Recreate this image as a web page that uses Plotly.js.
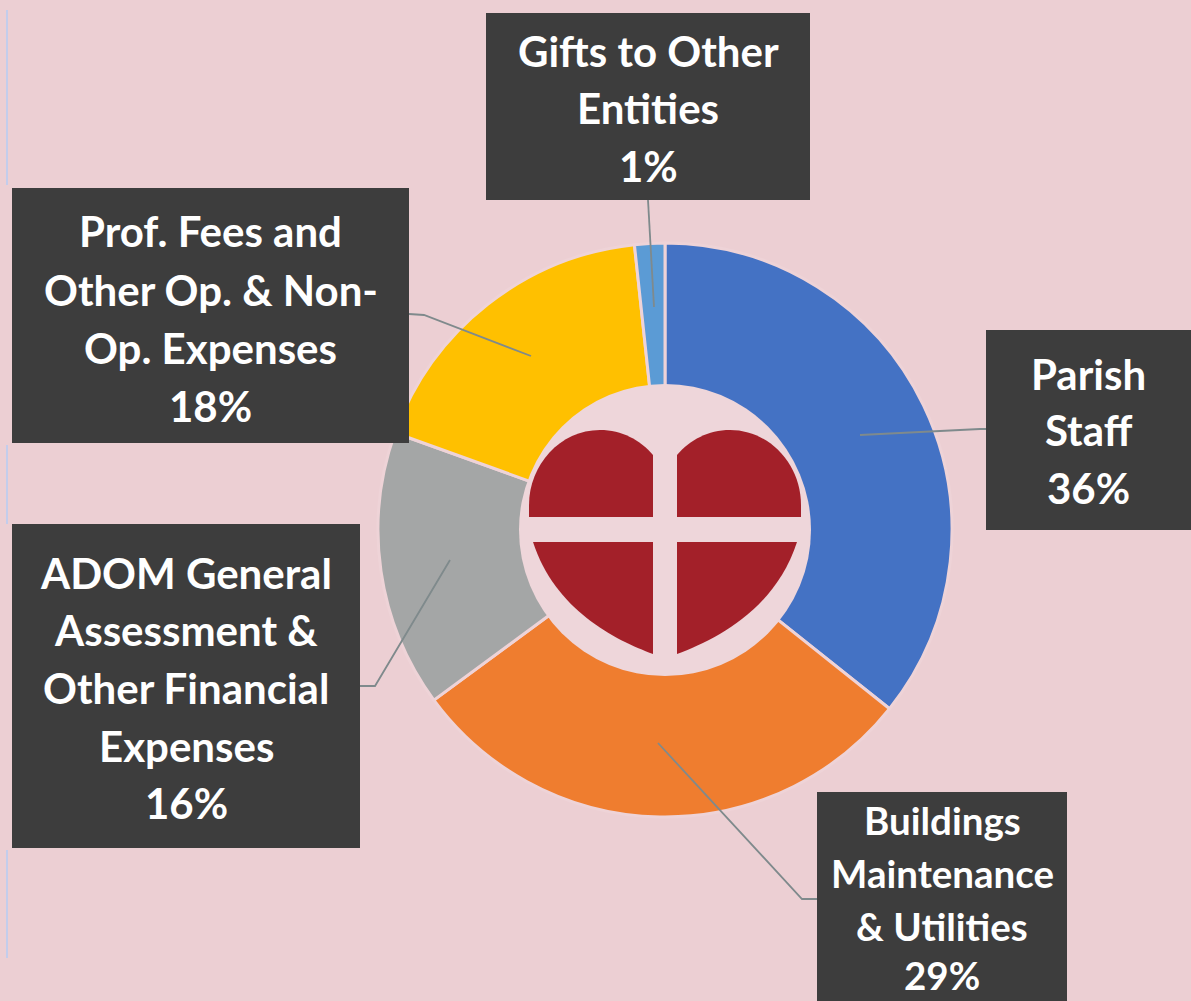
<!DOCTYPE html>
<html>
<head>
<meta charset="utf-8">
<script src="https://cdn.plot.ly/plotly-3.0.1.min.js"></script>
<style>html,body{margin:0;padding:0;background:#eccfd3;overflow:hidden}#chart{width:1191px;height:1001px}</style>
</head>
<body>
<div id="chart"></div>
<script>
// Data
const categories = ["Parish Staff", "Buildings Maintenance & Utilities", "ADOM General Assessment & Other Financial Expenses", "Prof. Fees and Other Op. & Non-Op. Expenses", "Gifts to Other Entities"];
const sliceShares = [35.7, 29.2, 15.6, 17.8, 1.7];
const printedPercents = ["36%", "29%", "16%", "18%", "1%"];
const sliceColors = ["#4472c4", "#ef7d2f", "#a4a6a6", "#ffc000", "#5b9bd5"];
const labelLines = [
  ["Parish", "Staff"],
  ["Buildings", "Maintenance", "& Utilities"],
  ["ADOM General", "Assessment &", "Other Financial", "Expenses"],
  ["Prof. Fees and", "Other Op. & Non-", "Op. Expenses"],
  ["Gifts to Other", "Entities"]
];

// Page layout, in page pixels
const W = 1191, H = 1001;
const BG = "#eccfd3", HOLE = "#eed6da", BOX = "#3d3d3d", HEART = "#a32029", LEADER = "#7f8a8c";
const cx = 665, cy = 530, R = 287, holeR = 146;
const boxes = [[986,330,1191,530],[817,792,1067,1001],[12,524,360,848],[12,188,409,443],[486,13,810,200]];
const lineY = [[374,430,488],[820,873,926,975],[573,630,688,746,803],[231,290,348,406],[51,108,166]];
const fontSizes = [42,38.5,42,42,42];
const leaders = [
  [[860,435],[980,429],[986,429]],
  [[658,743],[802,899],[817,899]],
  [[450,560],[375,686],[360,686]],
  [[531,356],[424,315],[409,314]],
  [[654,307],[648,200]]
];
const sideRule = [[10,185],[445,524],[850,958]];
const heartPaths = [
  [["M",653,517],["L",529,517],["L",529,505],["C",529,465,560,430,600,430],["C",622,430,640,440,653,455],["Z"]],
  [["M",677,517],["L",801,517],["L",801,505],["C",801,465,770,430,730,430],["C",708,430,690,440,677,455],["Z"]],
  [["M",533,542],["L",653,542],["L",653,654],["C",615,640,555,610,533,542],["Z"]],
  [["M",797,542],["L",677,542],["L",677,654],["C",715,640,775,610,797,542],["Z"]]
];

const px = x => x / W, py = y => 1 - y / H;
const toPath = segs => segs.map(s => {
  let out = s[0];
  for (let i = 1; i < s.length; i += 2) out += " " + px(s[i]) + "," + py(s[i + 1]);
  return out;
}).join(" ");

const shapes = [];
const addRect = (x0, y0, x1, y1, color) => shapes.push({type:"rect", xref:"paper", yref:"paper", layer:"above",
  x0:px(x0), x1:px(x1), y0:py(y1), y1:py(y0), fillcolor:color, line:{width:0}});

sideRule.forEach(r => shapes.push({type:"line", xref:"paper", yref:"paper", layer:"above",
  x0:px(7), x1:px(7), y0:py(r[0]), y1:py(r[1]), line:{color:"#c3cdec", width:2}}));
shapes.push({type:"circle", xref:"paper", yref:"paper", layer:"above",
  x0:px(cx-holeR), x1:px(cx+holeR), y0:py(cy+holeR), y1:py(cy-holeR), fillcolor:HOLE, line:{width:0}});
heartPaths.forEach(p => shapes.push({type:"path", xref:"paper", yref:"paper", layer:"above",
  path:toPath(p), fillcolor:HEART, line:{width:0}}));
leaders.forEach(l => shapes.push({type:"path", xref:"paper", yref:"paper", layer:"above",
  path:toPath(l.map((p,i)=>[i?"L":"M",p[0],p[1]])), line:{color:LEADER, width:1.8}}));
boxes.forEach(b => addRect(b[0],b[1],b[2],b[3],BOX));

const annotations = [];
categories.forEach((c,i) => {
  const lines = labelLines[i].concat([printedPercents[i]]);
  const xc = (boxes[i][0] + boxes[i][2]) / 2;
  lines.forEach((t,j) => annotations.push({
    xref:"paper", yref:"paper", x:px(xc), y:py(lineY[i][j]), xanchor:"center", yanchor:"middle",
    text:t, showarrow:false, captureevents:false,
    font:{family:"Lato, 'Open Sans', sans-serif", size:fontSizes[i], color:"#ffffff", weight:700}
  }));
});

const trace = {
  type:"pie", labels:categories, values:sliceShares, sort:false, direction:"clockwise", rotation:0,
  hole:(holeR-6)/R, textinfo:"none", hoverinfo:"label+percent", showlegend:false,
  marker:{colors:sliceColors, line:{color:"#eed3d7", width:3}},
  domain:{x:[px(cx-R), px(cx+R)], y:[py(cy+R), py(cy-R)]}
};
Plotly.newPlot("chart",[trace],{
  width:W, height:H, margin:{l:0,r:0,t:0,b:0,pad:0}, paper_bgcolor:BG, plot_bgcolor:BG,
  showlegend:false, shapes, annotations
},{displayModeBar:false,responsive:false});
</script>
</body>
</html>
